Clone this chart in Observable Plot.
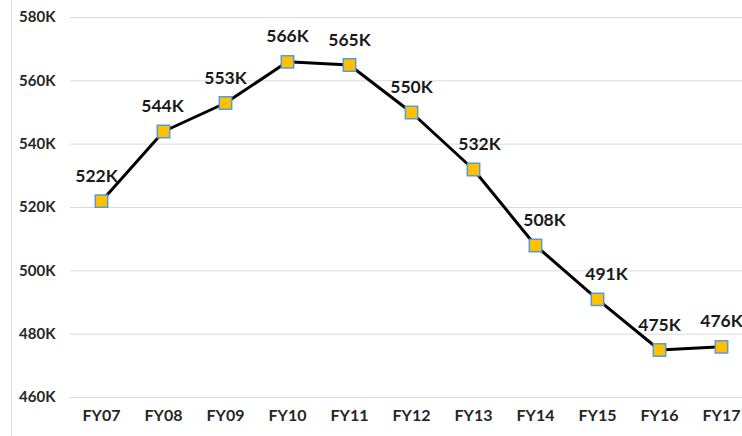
<!DOCTYPE html>
<html>
<head>
<meta charset="utf-8">
<script src="https://cdn.jsdelivr.net/npm/d3@7"></script>
<script src="https://cdn.jsdelivr.net/npm/@observablehq/plot@0.6"></script>
<style>
  html, body { margin: 0; padding: 0; background: #fff; }
  #wrap { position: relative; width: 742px; height: 436px; overflow: hidden; }
  #edge { position: absolute; left: 11px; top: 0; width: 1px; height: 436px; background: #d9d9d9; }
</style>
</head>
<body>
<div id="wrap"><div id="edge"></div></div>
<script>
const years = ["FY07","FY08","FY09","FY10","FY11","FY12","FY13","FY14","FY15","FY16","FY17"];
const values = [522000, 544000, 553000, 566000, 565000, 550000, 532000, 508000, 491000, 475000, 476000];
const yTicks = [460000, 480000, 500000, 520000, 540000, 560000, 580000];

const data = years.map((y, i) => ({year: y, value: values[i]}));
const fmt = d => Math.round(d / 1000) + "K";
const labelDx = [-5, -1, 0, 0, 0, 0, 6, 9, 9, 0, 0];

const chart = Plot.plot({
  width: 742,
  height: 436,
  marginLeft: 70,
  marginRight: 0,
  marginTop: 17,
  marginBottom: 39,
  style: {fontFamily: "Lato, 'Open Sans', sans-serif", color: "#262626", background: "transparent"},
  x: {type: "point", domain: years, range: [100, 722], padding: 0},
  y: {domain: [460000, 580000]},
  marks: [
    Plot.ruleY(yTicks, {stroke: "#d9d9d9", strokeWidth: 1}),
    Plot.axisY({ticks: yTicks, tickFormat: fmt, tickSize: 0, tickPadding: 15, fontSize: 15, fontWeight: "bold", label: null}),
    Plot.axisX({tickSize: 0, tickPadding: 12, fontSize: 16, fontWeight: "bold", label: null}),
    Plot.line(data, {x: "year", y: "value", stroke: "#000", strokeWidth: 3}),
    Plot.dot(data, {x: "year", y: "value", symbol: "square", r: 7, fill: "#FFC000", stroke: "#5B9BD5", strokeWidth: 1.5}),
    ...data.map((d, i) => Plot.text([d], {x: "year", y: "value", text: e => fmt(e.value), dy: -25, dx: labelDx[i], fontSize: 17.5, fontWeight: "bold", fill: "#1a1a1a"}))
  ]
});
document.getElementById("wrap").appendChild(chart);
</script>
</body>
</html>
